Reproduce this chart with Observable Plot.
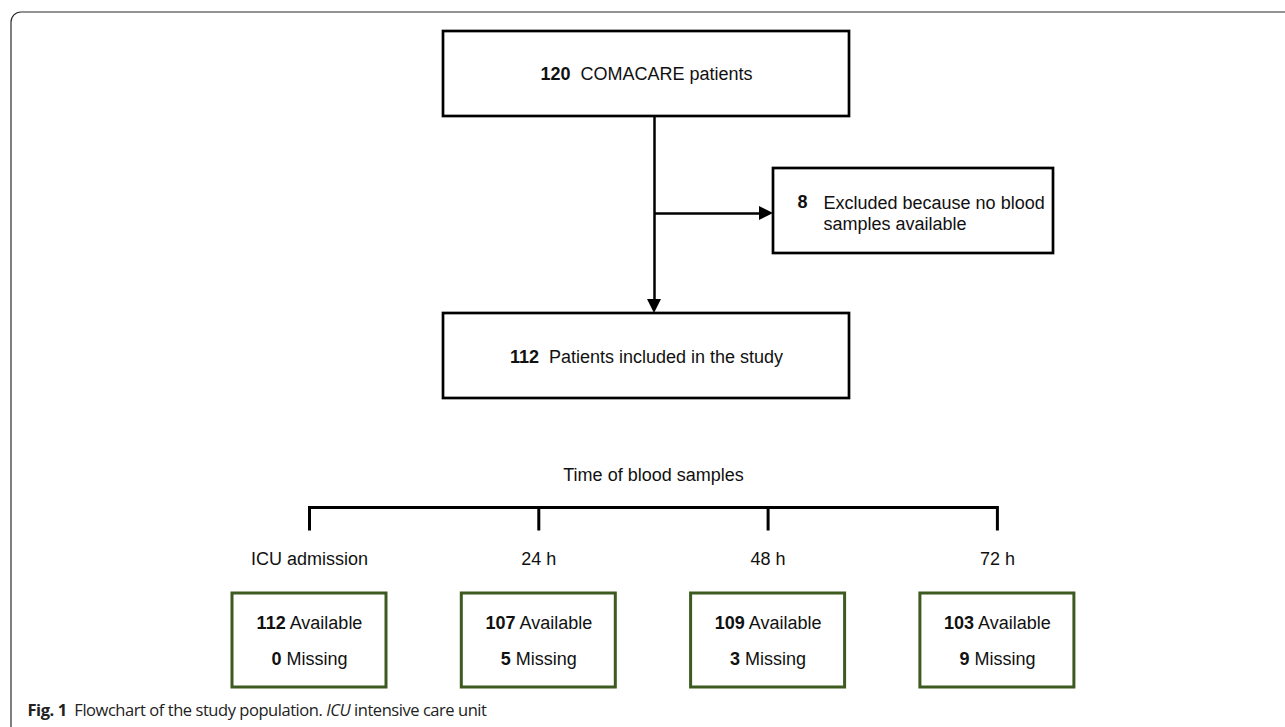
<!DOCTYPE html>
<html><head><meta charset="utf-8">
<script src="https://cdn.jsdelivr.net/npm/d3@7"></script>
<script src="https://cdn.jsdelivr.net/npm/@observablehq/plot@0.6"></script>
<style>
html,body{margin:0;padding:0;background:#fff;overflow:hidden;}
</style></head><body><div id="chart"></div>
<script>
// ---- data ----
const enrolledCount = 120;
const enrolledLabel = "COMACARE patients";
const excludedCount = 8;
const excludedLabel = "Excluded because no blood\nsamples available";
const includedCount = 112;
const includedLabel = "Patients included in the study";
const timeTitle = "Time of blood samples";
const timepoints = ["ICU admission", "24 h", "48 h", "72 h"];
const available = [112, 107, 109, 103];
const missing = [0, 5, 3, 9];
const captionParts = [["Fig. 1", "bold"], ["  Flowchart of the study population. ", "normal"], ["ICU", "italic"], [" intensive care unit", "normal"]];

// ---- layout ----
const W = 1285, H = 727;
const mainX1 = 443, mainX2 = 849, trunkX = 654;
const topY1 = 31, topY2 = 116, midY1 = 313, midY2 = 398;
const side = {x1: 773, x2: 1053, y1: 168, y2: 253};
const branchY = 213, head = 14;
const colX0 = 309, colStep = 229.3, halfBox = 77;
const bracketY = 507, tickY2 = 530, labelY = 559, gTop = 593, gBot = 687, availY = 623, missY = 659;
const black = "#000", green = "#3d5a1f";

const colX = i => colX0 + i * colStep;
const cols = timepoints.map((t, i) => ({
  label: t, x: colX(i),
  avail: `${available[i]} Available`, miss: `${missing[i]} Missing`
}));

const blackBoxes = [
  {x1: mainX1, x2: mainX2, y1: topY1, y2: topY2},
  {x1: side.x1, x2: side.x2, y1: side.y1, y2: side.y2},
  {x1: mainX1, x2: mainX2, y1: midY1, y2: midY2}
];
const greenBoxes = cols.map(c => ({x1: c.x - halfBox, x2: c.x + halfBox, y1: gTop, y2: gBot}));

const connectors = [
  {x1: trunkX, y1: topY2, x2: trunkX, y2: midY1 - head + 1},
  {x1: trunkX, y1: branchY, x2: side.x1 - head + 1, y2: branchY}
];
const bracket = [
  {x1: colX(0), y1: bracketY, x2: colX(cols.length - 1), y2: bracketY},
  ...cols.map(c => ({x1: c.x, y1: bracketY - 1.5, x2: c.x, y2: tickY2}))
];
const downHead = [
  {x: trunkX - head / 2, y1: midY1 - head, y2: midY1 - head},
  {x: trunkX, y1: midY1 - head, y2: midY1},
  {x: trunkX + head / 2, y1: midY1 - head, y2: midY1 - head}
];
const rightHead = [
  {y: branchY - head / 2, x1: side.x1 - head, x2: side.x1 - head},
  {y: branchY, x1: side.x1 - head, x2: side.x1},
  {y: branchY + head / 2, x1: side.x1 - head, x2: side.x1 - head}
];

const mainTexts = [
  {x: (mainX1 + mainX2) / 2, y: (topY1 + topY2) / 2, text: `${enrolledCount}  ${enrolledLabel}`},
  {x: (mainX1 + mainX2) / 2, y: (midY1 + midY2) / 2 + 1, text: `${includedCount}  ${includedLabel}`}
];

const plot = Plot.plot({
  width: W, height: H, margin: 0,
  x: {domain: [0, W], range: [0, W], axis: null},
  y: {domain: [0, H], range: [0, H], axis: null},
  style: {fontFamily: "'Liberation Sans', Arial, Helvetica, sans-serif", fontSize: "18px", background: "#fff", color: "#111", overflow: "hidden"},
  marks: [
    // outer frame with rounded corner
    Plot.rect([{}], {x1: () => 11, x2: () => W + 60, y1: () => 12, y2: () => H + 60, rx: 10, fill: "none", stroke: "#2b2b2b", strokeWidth: 1.2}),
    // boxes
    Plot.rect(blackBoxes, {x1: "x1", x2: "x2", y1: "y1", y2: "y2", fill: "none", stroke: black, strokeWidth: 2.7}),
    Plot.rect(greenBoxes, {x1: "x1", x2: "x2", y1: "y1", y2: "y2", fill: "none", stroke: green, strokeWidth: 3}),
    // connectors
    Plot.link(connectors, {x1: "x1", y1: "y1", x2: "x2", y2: "y2", stroke: black, strokeWidth: 2.5}),
    Plot.areaY(downHead, {x: "x", y1: "y1", y2: "y2", fill: black, curve: "linear"}),
    Plot.areaX(rightHead, {y: "y", x1: "x1", x2: "x2", fill: black, curve: "linear"}),
    Plot.link(bracket, {x1: "x1", y1: "y1", x2: "x2", y2: "y2", stroke: black, strokeWidth: 3}),
    // texts
    Plot.text(mainTexts, {x: "x", y: "y", text: "text", textAnchor: "middle", ariaDescription: "boldnum"}),
    Plot.text([excludedCount], {x: () => side.x1 + 24, y: () => branchY - 11, text: d => String(d), textAnchor: "start", fontWeight: "bold"}),
    Plot.text([excludedLabel], {x: () => side.x1 + 50, y: () => branchY - 0.5, text: d => d, textAnchor: "start", lineHeight: 1.17}),
    Plot.text([timeTitle], {x: () => trunkX - 1, y: () => 475, text: d => d, textAnchor: "middle"}),
    Plot.text(cols, {x: "x", y: () => labelY, text: "label", textAnchor: "middle"}),
    Plot.text(cols, {x: "x", y: () => availY, text: "avail", textAnchor: "middle", ariaDescription: "boldnum"}),
    Plot.text(cols, {x: "x", y: () => missY, text: "miss", textAnchor: "middle", ariaDescription: "boldnum"}),
    Plot.text([captionParts.map(p => p[0]).join("")], {x: () => 27, y: () => 710, text: d => d, textAnchor: "start", ariaDescription: "caption", fontFamily: "'Open Sans', 'Noto Sans', sans-serif", fontSize: 16.5, fill: "#222"})
  ]
});

// rich text: bold leading numbers
d3.select(plot).selectAll("g[aria-description='boldnum'] text").each(function() {
  const t = d3.select(this);
  const m = this.textContent.match(/^(\d+)(\s+)(.*)$/);
  if (!m) return;
  t.text(null);
  t.append("tspan").attr("font-weight", "bold").text(m[1]);
  t.append("tspan").text(m[2] + m[3]);
});
d3.select(plot).selectAll("g[aria-description='caption'] text").each(function() {
  const t = d3.select(this);
  t.text(null);
  for (const [s, st] of captionParts) {
    const ts = t.append("tspan").text(s);
    if (st === "bold") ts.attr("font-weight", "bold");
    if (st === "italic") ts.attr("font-style", "italic");
  }
  t.attr("letter-spacing", "-0.45");
});

document.getElementById("chart").appendChild(plot);
</script></body></html>
